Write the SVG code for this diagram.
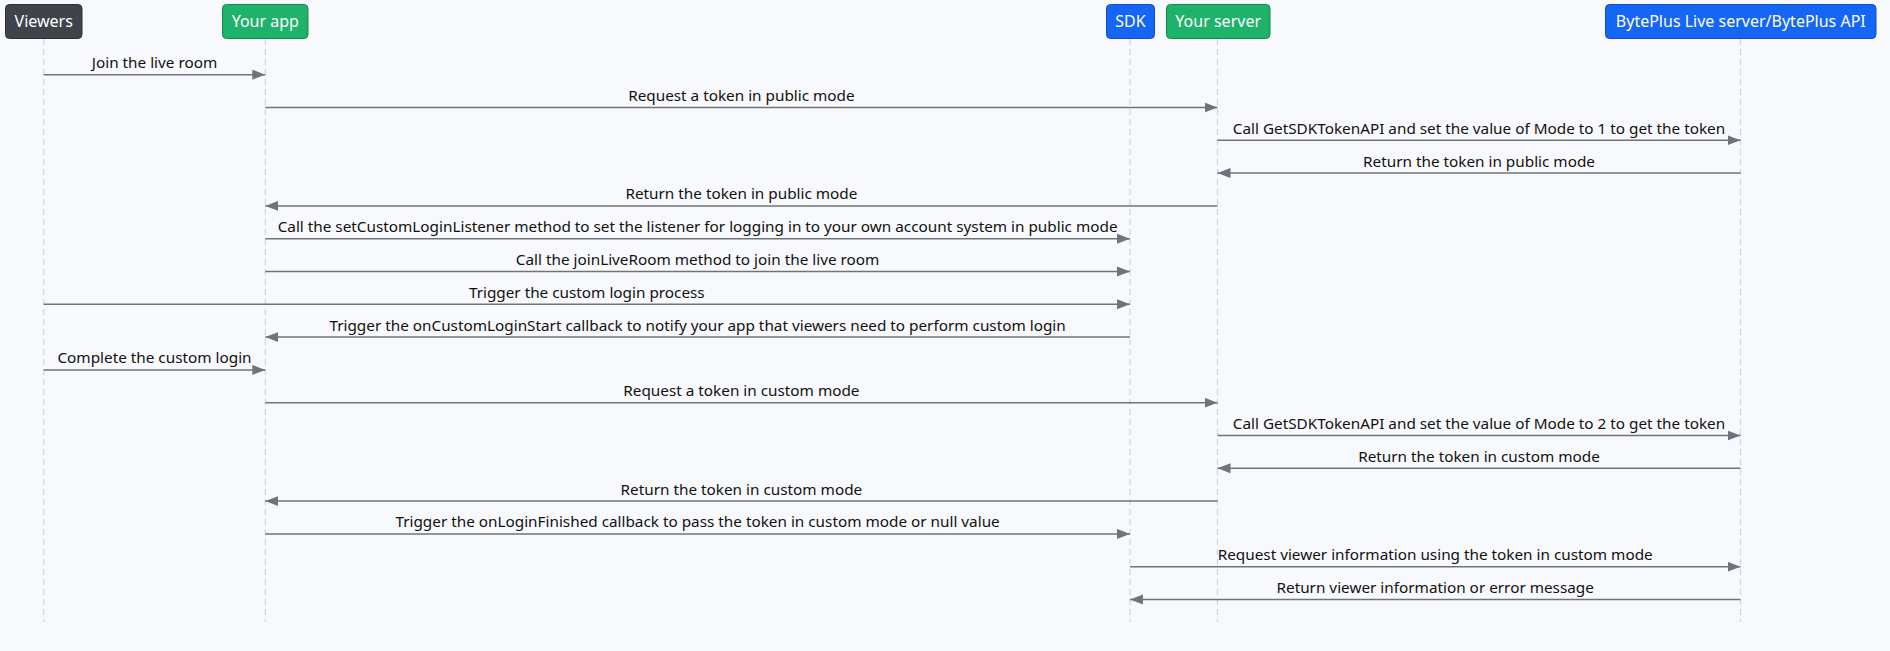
<svg xmlns="http://www.w3.org/2000/svg" width="1890" height="651" viewBox="0 0 1890 651">
<style>
.bg{fill:#f8f9fc}
.life{stroke:#c6d4ef;stroke-width:1.2;stroke-dasharray:6 4;fill:none}
.box{stroke-width:1;}
.dark{fill:#3f444b;stroke:#2c3036}
.green{fill:#1eb26a;stroke:#17864f}
.blue{fill:#1565f6;stroke:#0f4fc4}
.ht{font-family:"Noto Sans","Open Sans",sans-serif;font-size:16px;fill:#ffffff;text-anchor:middle}
.msg{stroke:#6f747a;stroke-width:1.5;fill:none;marker-end:url(#ah)}
.lbl{font-family:"Noto Sans","Open Sans",sans-serif;font-size:15.3px;fill:#111111;text-anchor:middle}
</style>
<defs>
<marker id="ah" markerUnits="userSpaceOnUse" markerWidth="14" markerHeight="12" refX="13" refY="5" orient="auto">
<polygon points="0,0 13,5 0,10" fill="#6f747a"/>
</marker>
</defs>
<rect class="bg" x="0" y="0" width="1890" height="651"/>
<g id="lifelines">
<line class="life" x1="43.7" y1="39" x2="43.7" y2="622"/>
<line class="life" x1="265.3" y1="39" x2="265.3" y2="622"/>
<line class="life" x1="1130" y1="39" x2="1130" y2="622"/>
<line class="life" x1="1217.5" y1="39" x2="1217.5" y2="622"/>
<line class="life" x1="1740.5" y1="39" x2="1740.5" y2="622"/>
</g>
<g id="viewers"><rect class="box dark" x="5.5" y="4.5" width="76.5" height="34" rx="4"/><text class="ht" x="43.7" y="27">Viewers</text></g>
<g id="your-app"><rect class="box green" x="222.5" y="4.5" width="85.5" height="34" rx="4"/><text class="ht" x="265.3" y="27">Your app</text></g>
<g id="sdk"><rect class="box blue" x="1106.5" y="4.5" width="48" height="34" rx="4"/><text class="ht" x="1130.5" y="27">SDK</text></g>
<g id="your-server"><rect class="box green" x="1166.5" y="4.5" width="103.5" height="34" rx="4"/><text class="ht" x="1218.2" y="27">Your server</text></g>
<g id="byteplus"><rect class="box blue" x="1605.5" y="4.5" width="270.5" height="34" rx="4"/><text class="ht" x="1740.8" y="27">BytePlus Live server/BytePlus API</text></g>
<g id="connectors">
<line class="msg" x1="43.7" y1="74.7" x2="265.3" y2="74.7"/>
<text class="lbl" x="154.5" y="68.2">Join the live room</text>
<line class="msg" x1="265.3" y1="107.5" x2="1217.5" y2="107.5"/>
<text class="lbl" x="741.4" y="101">Request a token in public mode</text>
<line class="msg" x1="1217.5" y1="140.3" x2="1740.5" y2="140.3"/>
<text class="lbl" x="1479" y="133.8">Call GetSDKTokenAPI and set the value of Mode to 1 to get the token</text>
<line class="msg" x1="1740.5" y1="173.1" x2="1217.5" y2="173.1"/>
<text class="lbl" x="1479" y="166.6">Return the token in public mode</text>
<line class="msg" x1="1217.5" y1="205.9" x2="265.3" y2="205.9"/>
<text class="lbl" x="741.4" y="199.4">Return the token in public mode</text>
<line class="msg" x1="265.3" y1="238.7" x2="1130" y2="238.7"/>
<text class="lbl" x="697.6" y="232.2">Call the setCustomLoginListener method to set the listener for logging in to your own account system in public mode</text>
<line class="msg" x1="265.3" y1="271.5" x2="1130" y2="271.5"/>
<text class="lbl" x="697.6" y="265">Call the joinLiveRoom method to join the live room</text>
<line class="msg" x1="43.7" y1="304.3" x2="1130" y2="304.3"/>
<text class="lbl" x="586.8" y="297.8">Trigger the custom login process</text>
<line class="msg" x1="1130" y1="337.1" x2="265.3" y2="337.1"/>
<text class="lbl" x="697.6" y="330.6">Trigger the onCustomLoginStart callback to notify your app that viewers need to perform custom login</text>
<line class="msg" x1="43.7" y1="369.9" x2="265.3" y2="369.9"/>
<text class="lbl" x="154.5" y="363.4">Complete the custom login</text>
<line class="msg" x1="265.3" y1="402.7" x2="1217.5" y2="402.7"/>
<text class="lbl" x="741.4" y="396.2">Request a token in custom mode</text>
<line class="msg" x1="1217.5" y1="435.5" x2="1740.5" y2="435.5"/>
<text class="lbl" x="1479" y="429">Call GetSDKTokenAPI and set the value of Mode to 2 to get the token</text>
<line class="msg" x1="1740.5" y1="468.3" x2="1217.5" y2="468.3"/>
<text class="lbl" x="1479" y="461.8">Return the token in custom mode</text>
<line class="msg" x1="1217.5" y1="501.1" x2="265.3" y2="501.1"/>
<text class="lbl" x="741.4" y="494.6">Return the token in custom mode</text>
<line class="msg" x1="265.3" y1="533.9" x2="1130" y2="533.9"/>
<text class="lbl" x="697.6" y="527.4">Trigger the onLoginFinished callback to pass the token in custom mode or null value</text>
<line class="msg" x1="1130" y1="566.7" x2="1740.5" y2="566.7"/>
<text class="lbl" x="1435.2" y="560.2">Request viewer information using the token in custom mode</text>
<line class="msg" x1="1740.5" y1="599.5" x2="1130" y2="599.5"/>
<text class="lbl" x="1435.2" y="593">Return viewer information or error message</text>
</g>
</svg>
